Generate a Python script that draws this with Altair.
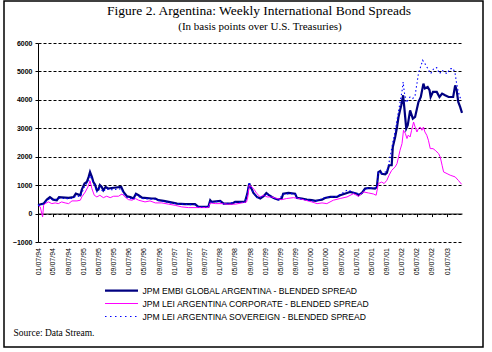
import altair as alt
import pandas as pd

# ---------------- data ----------------
embi_dates = [
    "1994-01-07", "1994-02-21", "1994-03-19", "1994-04-13", "1994-05-10", "1994-06-07", "1994-06-25",
    "1994-09-10", "1994-10-20", "1994-11-07", "1994-12-13", "1994-12-25", "1995-01-16", "1995-02-03",
    "1995-02-18", "1995-03-01", "1995-03-16", "1995-03-28", "1995-04-10", "1995-04-25", "1995-05-07",
    "1995-05-19", "1995-06-03", "1995-06-16", "1995-07-04", "1995-07-25", "1995-08-22", "1995-11-07",
    "1995-11-25", "1995-12-22", "1996-01-19", "1996-02-13", "1996-03-04", "1996-03-25", "1996-04-22",
    "1996-07-10", "1996-08-07", "1996-09-01", "1996-10-13", "1996-11-22", "1997-01-01", "1997-01-28",
    "1997-04-04", "1997-06-22", "1997-07-19", "1997-10-07", "1997-10-22", "1997-11-03", "1998-01-10",
    "1998-02-07", "1998-04-13", "1998-05-10", "1998-07-28", "1998-08-16", "1998-08-31", "1998-09-07",
    "1998-09-22", "1998-10-04", "1998-11-01", "1998-11-28", "1998-12-25", "1999-01-16", "1999-02-03",
    "1999-03-01", "1999-03-25", "1999-04-22", "1999-05-19", "1999-05-31", "1999-07-13", "1999-09-04",
    "1999-09-19", "1999-10-28", "1999-12-07", "2000-01-16", "2000-02-13", "2000-03-10", "2000-04-07",
    "2000-05-01", "2000-06-13", "2000-08-04", "2000-08-31", "2000-10-25", "2000-11-19", "2001-01-13",
    "2001-01-25", "2001-02-22", "2001-03-19", "2001-04-16", "2001-06-07", "2001-06-22", "2001-07-04",
    "2001-07-19", "2001-07-31", "2001-08-28", "2001-09-10", "2001-09-28", "2001-10-19", "2001-10-28",
    "2001-11-16", "2001-12-01", "2001-12-13", "2001-12-25", "2002-01-04", "2002-01-19", "2002-01-28",
    "2002-02-13", "2002-02-25", "2002-03-16", "2002-04-07", "2002-04-25", "2002-05-22", "2002-06-10",
    "2002-07-01", "2002-07-13", "2002-08-04", "2002-08-19", "2002-08-28", "2002-09-16", "2002-10-16",
    "2002-11-07", "2002-11-28", "2002-12-22", "2003-01-19", "2003-02-25", "2003-03-13", "2003-03-25",
    "2003-04-07", "2003-04-22", "2003-05-07",
]
embi_values = [
    300, 350, 490, 580, 490, 470, 580,
    550, 580, 700, 640, 845, 1055, 1110,
    1290, 1460, 1290, 1110, 1020, 820, 840,
    1000, 935, 820, 935, 880, 900, 935,
    760, 610, 580, 530, 700, 645, 560,
    530, 530, 470, 445, 410, 375, 350,
    330, 330, 235, 235, 470, 410, 445,
    350, 350, 410, 410, 700, 1055, 960,
    845, 725, 585, 530, 610, 725, 660,
    585, 530, 490, 530, 700, 725, 700,
    550, 530, 490, 470, 445, 470, 490,
    550, 585, 585, 645, 725, 760, 700,
    645, 725, 880, 900, 880, 935, 1460,
    1500, 1400, 1380, 1430, 1700, 1700, 2340,
    2695, 3045, 3400, 3630, 3810, 4160, 3750,
    2990, 3105, 3630, 3340, 3400, 3925, 4100,
    4570, 4400, 4450, 4340, 4100, 4280, 4280,
    4100, 4220, 4160, 4100, 4100, 4510, 4340,
    3925, 3750, 3540,
]

corp_dates = [
    "1994-01-07", "1994-01-25", "1994-02-13", "1994-02-21", "1994-03-05", "1994-04-01", "1994-04-28",
    "1994-05-25", "1994-06-19", "1994-07-16", "1994-08-13", "1994-09-10", "1994-10-07", "1994-11-16",
    "1994-12-13", "1994-12-25", "1995-01-22", "1995-02-12", "1995-03-01", "1995-03-16", "1995-04-04",
    "1995-04-25", "1995-05-19", "1995-06-16", "1995-07-13", "1995-08-10", "1995-09-07", "1995-10-16",
    "1995-11-13", "1995-12-07", "1996-01-04", "1996-02-01", "1996-02-28", "1996-03-25", "1996-05-16",
    "1996-06-25", "1996-08-07", "1996-09-28", "1996-11-22", "1997-01-13", "1997-03-07", "1997-05-01",
    "1997-10-07", "1997-10-22", "1997-12-01", "1998-01-25", "1998-03-16", "1998-05-10", "1998-07-04",
    "1998-08-10", "1998-08-20", "1998-08-31", "1998-09-22", "1998-10-10", "1998-11-01", "1998-11-28",
    "1998-12-25", "1999-01-22", "1999-03-01", "1999-04-10", "1999-05-19", "1999-06-28", "1999-08-22",
    "1999-10-01", "1999-11-25", "2000-01-16", "2000-02-28", "2000-04-07", "2000-05-16", "2000-07-07",
    "2000-08-31", "2000-10-25", "2000-12-16", "2001-01-25", "2001-03-07", "2001-04-16", "2001-05-25",
    "2001-06-16", "2001-07-04", "2001-07-31", "2001-08-19", "2001-09-10", "2001-09-28", "2001-10-19",
    "2001-11-16", "2001-12-01", "2001-12-13", "2001-12-25", "2002-01-10", "2002-01-22", "2002-02-06",
    "2002-02-19", "2002-03-01", "2002-03-16", "2002-03-28", "2002-04-13", "2002-04-25", "2002-05-10",
    "2002-05-22", "2002-06-04", "2002-06-19", "2002-07-01", "2002-07-13", "2002-07-28", "2002-08-10",
    "2002-08-25", "2002-09-16", "2002-10-04", "2002-10-31", "2002-11-13", "2002-11-28", "2002-12-10",
    "2003-01-07", "2003-02-01", "2003-03-13", "2003-04-07", "2003-05-04",
]
corp_values = [
    300, 235, -120, 290, 350, 410, 350,
    375, 350, 410, 375, 350, 445, 445,
    470, 585, 760, 935, 1150, 880, 645,
    585, 645, 560, 610, 560, 610, 610,
    690, 585, 490, 470, 530, 470, 410,
    445, 375, 375, 330, 290, 235, 210,
    210, 375, 350, 350, 330, 330, 375,
    410, 585, 1000, 935, 845, 700, 585,
    645, 585, 585, 530, 490, 530, 560,
    530, 470, 410, 350, 375, 350, 470,
    530, 585, 700, 610, 760, 725, 690,
    645, 1055, 1110, 1055, 1170, 1350, 1520,
    1640, 1760, 1990, 2225, 2460, 2930, 2815,
    2640, 2760, 2695, 2930, 3220, 3045, 2870,
    2990, 3045, 2930, 3045, 2870, 2755, 2580,
    2285, 2285, 2225, 2110, 1990, 1700, 1465,
    1405, 1350, 1290, 1170, 1030,
]

sov_dates = [
    "1994-01-07", "1994-02-21", "1994-03-19", "1994-04-13", "1994-05-10", "1994-06-25", "1994-09-10",
    "1994-10-20", "1994-11-07", "1994-12-13", "1994-12-25", "1995-01-16", "1995-02-18", "1995-03-01",
    "1995-03-16", "1995-04-10", "1995-04-25", "1995-05-19", "1995-06-16", "1995-07-04", "1995-08-22",
    "1995-11-07", "1995-11-25", "1995-12-22", "1996-02-13", "1996-03-04", "1996-04-22", "1996-08-07",
    "1996-10-13", "1997-01-01", "1997-04-04", "1997-06-22", "1997-07-19", "1997-10-07", "1997-10-22",
    "1997-11-03", "1998-01-10", "1998-02-07", "1998-05-10", "1998-07-28", "1998-08-19", "1998-08-31",
    "1998-09-22", "1998-11-01", "1998-12-25", "1999-01-16", "1999-03-01", "1999-04-22", "1999-05-31",
    "1999-07-13", "1999-09-04", "1999-09-19", "1999-12-07", "2000-02-13", "2000-05-01", "2000-08-04",
    "2000-10-25", "2000-11-19", "2001-01-13", "2001-02-22", "2001-03-19", "2001-06-22", "2001-07-04",
    "2001-07-31", "2001-09-10", "2001-09-28", "2001-10-28", "2001-11-16", "2001-12-13", "2001-12-25",
    "2002-01-10", "2002-01-19", "2002-01-28", "2002-02-13", "2002-03-16", "2002-04-07", "2002-04-25",
    "2002-05-22", "2002-06-25", "2002-07-13", "2002-07-28", "2002-08-28", "2002-09-22", "2002-10-16",
    "2002-11-07", "2002-11-28", "2002-12-16", "2003-01-07", "2003-02-01", "2003-02-25", "2003-03-13",
    "2003-03-25", "2003-04-07", "2003-04-25", "2003-05-07",
]
sov_values = [
    280, 330, 450, 530, 460, 540, 520,
    550, 620, 600, 720, 950, 1150, 1350,
    1200, 950, 760, 900, 760, 870, 840,
    870, 700, 570, 500, 660, 530, 500,
    420, 360, 320, 310, 230, 230, 450,
    400, 430, 340, 400, 400, 780, 1110,
    830, 560, 600, 700, 570, 480, 680,
    700, 690, 540, 480, 430, 560, 600,
    820, 790, 700, 720, 870, 920, 1450,
    1420, 1480, 1800, 2500, 2900, 3600, 3900,
    4300, 4630, 4280, 3900, 4100, 4050, 4150,
    4920, 5390, 5275, 5160, 4920, 5100, 5135,
    4920, 5040, 4980, 4920, 5100, 5100, 4920,
    4570, 4280, 4050, 4100,
]

series_names = [
    "JPM EMBI GLOBAL ARGENTINA - BLENDED SPREAD",
    "JPM LEI ARGENTINA CORPORATE - BLENDED SPREAD",
    "JPM LEI ARGENTINA SOVEREIGN - BLENDED SPREAD",
]
series_colors = ["#000080", "#FF00FF", "#0000FF"]

tick_dates = [
    "1994-01-07", "1994-05-07", "1994-09-07", "1995-01-07", "1995-05-07", "1995-09-07",
    "1996-01-07", "1996-05-07", "1996-09-07", "1997-01-07", "1997-05-07", "1997-09-07",
    "1998-01-07", "1998-05-07", "1998-09-07", "1999-01-07", "1999-05-07", "1999-09-07",
    "2000-01-07", "2000-05-07", "2000-09-07", "2001-01-07", "2001-05-07", "2001-09-07",
    "2002-01-07", "2002-05-07", "2002-09-07", "2003-01-07",
]
x_start, x_end = "1994-01-07", "2003-05-07"
y_ticks = [-1000, 0, 1000, 2000, 3000, 4000, 5000, 6000]

title_text = "Figure 2. Argentina: Weekly International Bond Spreads"
subtitle_text = "(In basis points over U.S. Treasuries)"
source_text = "Source: Data Stream."

# ---------------- chart ----------------
W, H = 424, 199


def dt(s):
    y, m, d = (int(v) for v in s.split("-"))
    return alt.DateTime(year=y, month=m, date=d)


def frame(dates, values):
    return pd.DataFrame({"date": pd.to_datetime(dates), "spread": values})


x_enc = alt.X(
    "date:T",
    scale=alt.Scale(domain=[dt(x_start), dt(x_end)]),
    axis=alt.Axis(
        values=[dt(s) for s in tick_dates],
        tickCount=len(tick_dates),
        format="%m/%d/%y",
        labelAngle=270,
        labelAlign="right",
        labelBaseline="middle",
        labelFont="Liberation Sans",
        labelFontSize=7,
        labelColor="black",
        labelPadding=31,
        labelOverlap=False,
        labelFlush=False,
        labelBound=False,
        offset=-H / 7.0,
        domainColor="black",
        domainWidth=1,
        tickColor="black",
        tickSize=3,
        grid=False,
        title=None,
    ),
)
y_enc = alt.Y(
    "spread:Q",
    scale=alt.Scale(domain=[-1000, 6000], nice=False, zero=False),
    axis=alt.Axis(
        values=y_ticks,
        tickCount=len(y_ticks),
        format="d",
        labelFont="Liberation Sans",
        labelFontSize=7,
        labelFontWeight="bold",
        labelColor="black",
        labelPadding=3,
        labelOverlap=False,
        domainColor="black",
        domainWidth=1,
        tickColor="black",
        tickSize=3,
        grid=True,
        gridColor="black",
        gridDash=[3, 2],
        gridWidth=1,
        title=None,
    ),
)

embi = alt.Chart(frame(embi_dates, embi_values)).mark_line(
    color=series_colors[0], strokeWidth=2.2
).encode(x=x_enc, y=y_enc)
corp = alt.Chart(frame(corp_dates, corp_values)).mark_line(
    color=series_colors[1], strokeWidth=1
).encode(x="date:T", y="spread:Q")
sov = alt.Chart(frame(sov_dates, sov_values)).mark_line(
    color=series_colors[2], strokeWidth=1.1, strokeDash=[1.5, 2.5]
).encode(x="date:T", y="spread:Q")

# decorations: title, legend, source, outer frame
title = alt.Chart().mark_text(font="Liberation Serif", fontSize=13.5, align="center", baseline="alphabetic", color="black").encode(
    x=alt.value(221), y=alt.value(-28.5), text=alt.value(title_text))
subtitle = alt.Chart().mark_text(font="Liberation Serif", fontSize=11, align="center", baseline="alphabetic", color="black").encode(
    x=alt.value(222), y=alt.value(-13), text=alt.value(subtitle_text))
source = alt.Chart().mark_text(font="Liberation Serif", fontSize=9.5, align="left", baseline="alphabetic", color="black").encode(
    x=alt.value(-24.5), y=alt.value(293), text=alt.value(source_text))

legend_layers = []
row_y = [247.7, 260.5, 273.5]
widths = [2.2, 1, 1.1]
dashes = [None, None, [1.5, 3.5]]
for name, col, yy, sw, dsh in zip(series_names, series_colors, row_y, widths, dashes):
    kw = dict(color=col, strokeWidth=sw)
    if dsh:
        kw["strokeDash"] = dsh
    legend_layers.append(
        alt.Chart().mark_rule(**kw).encode(x=alt.value(67), x2=alt.value(100), y=alt.value(yy))
    )
    legend_layers.append(
        alt.Chart().mark_text(font="Liberation Sans", fontSize=8.6, align="left", baseline="middle", color="black").encode(
            x=alt.value(104.5), y=alt.value(yy + 0.5), text=alt.value(name))
    )

border = alt.Chart().mark_rect(fill=None, fillOpacity=0, stroke="black", strokeWidth=1.5).encode(
    x=alt.value(-34), x2=alt.value(445), y=alt.value(-42), y2=alt.value(304))

chart = alt.layer(
    embi, corp, sov, title, subtitle, source, *legend_layers, border
).properties(
    width=W,
    height=H,
    autosize=alt.AutoSizeParams(type="none"),
    padding={"left": 38, "top": 43, "right": 30, "bottom": 110},
    background="white",
).configure_view(stroke=None)

chart.save("out.html", embed_options={"renderer": "svg", "actions": False})
